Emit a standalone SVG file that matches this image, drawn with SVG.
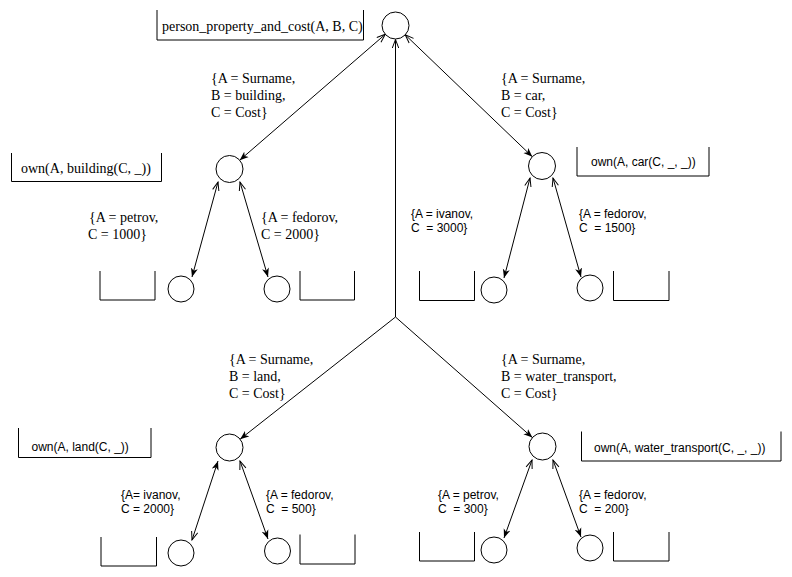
<svg xmlns="http://www.w3.org/2000/svg" width="792" height="577" viewBox="0 0 792 577">
  <style>
    .bg { fill: #ffffff; }
    .node { fill: #ffffff; stroke: #000000; stroke-width: 1; }
    .tray { fill: none; stroke: #000000; stroke-width: 1; }
    .edge { fill: none; stroke: #000000; stroke-width: 1; }
    text { white-space: pre; }
    .serif { font-family: "Liberation Serif", "Times New Roman", serif; font-size: 14px; fill: #000000; }
    .sans { font-family: "Liberation Sans", Arial, sans-serif; font-size: 12px; fill: #000000; }
  </style>
  <defs>
    <marker id="filled" markerUnits="userSpaceOnUse" markerWidth="10" markerHeight="8" refX="9" refY="4" orient="auto-start-reverse">
      <path d="M0,0.5 L9,4 L0,7.5 L2.5,4 Z" fill="#000000"/>
    </marker>
    <marker id="open" markerUnits="userSpaceOnUse" markerWidth="10" markerHeight="8" refX="9" refY="4" orient="auto-start-reverse">
      <path d="M0.5,0.8 L9,4 L0.5,7.2" fill="none" stroke="#000000" stroke-width="1"/>
    </marker>
  </defs>

  <rect class="bg" x="0" y="0" width="792" height="577"/>

  <!-- connectors -->
  <g id="connectors">
    <!-- root to its branches -->
    <path class="edge" d="M385.3,34.3 L239.7,160.2" marker-start="url(#open)" marker-end="url(#filled)"/>
    <path class="edge" d="M405.2,34.8 L532.3,156.7" marker-start="url(#open)" marker-end="url(#filled)"/>
    <path class="edge" d="M395.5,317 L395.5,39.5" marker-end="url(#open)"/>
    <path class="edge" d="M395.5,317 L240.1,439.2" marker-end="url(#filled)"/>
    <path class="edge" d="M395.5,317 L532.4,437.6" marker-end="url(#filled)"/>
    <!-- building leaves -->
    <path class="edge" d="M218,182 L192,277" marker-start="url(#open)" marker-end="url(#filled)"/>
    <path class="edge" d="M240,182 L268,277" marker-start="url(#open)" marker-end="url(#filled)"/>
    <!-- car leaves -->
    <path class="edge" d="M530,178 L504,278" marker-start="url(#open)" marker-end="url(#filled)"/>
    <path class="edge" d="M553,178 L581,277" marker-start="url(#open)" marker-end="url(#filled)"/>
    <!-- land leaves -->
    <path class="edge" d="M218,461 L192,540" marker-start="url(#filled)" marker-end="url(#open)"/>
    <path class="edge" d="M240,461 L268,539" marker-start="url(#open)" marker-end="url(#filled)"/>
    <!-- water transport leaves -->
    <path class="edge" d="M532,460 L504,538" marker-start="url(#open)" marker-end="url(#filled)"/>
    <path class="edge" d="M553,460 L581,537" marker-start="url(#open)" marker-end="url(#filled)"/>
  </g>

  <!-- edge labels -->
  <g id="edge-labels">
    <text class="serif" x="211" y="83">{A = Surname,</text>
    <text class="serif" x="211" y="100">B = building,</text>
    <text class="serif" x="211" y="117">C = Cost}</text>

    <text class="serif" x="501" y="83">{A = Surname,</text>
    <text class="serif" x="501" y="100">B = car,</text>
    <text class="serif" x="501" y="117">C = Cost}</text>

    <text class="serif" x="89" y="221.5">{A = petrov,</text>
    <text class="serif" x="88" y="238.5">C = 1000}</text>
    <text class="serif" x="261" y="221.5">{A = fedorov,</text>
    <text class="serif" x="261" y="238.5">C = 2000}</text>

    <text class="sans" x="411" y="217.5" xml:space="preserve">{A = ivanov,</text>
    <text class="sans" x="411" y="232" xml:space="preserve">C  = 3000}</text>
    <text class="sans" x="579" y="217.5" xml:space="preserve">{A = fedorov,</text>
    <text class="sans" x="579" y="232" xml:space="preserve">C  = 1500}</text>

    <text class="serif" x="229" y="364">{A = Surname,</text>
    <text class="serif" x="229" y="381">B = land,</text>
    <text class="serif" x="229" y="398">C = Cost}</text>

    <text class="serif" x="501" y="364">{A = Surname,</text>
    <text class="serif" x="501" y="381">B = water_transport,</text>
    <text class="serif" x="501" y="398">C = Cost}</text>

    <text class="sans" x="121" y="498.5">{A= ivanov,</text>
    <text class="sans" x="121" y="513">C = 2000}</text>
    <text class="sans" x="266" y="498.5" xml:space="preserve">{A = fedorov,</text>
    <text class="sans" x="266" y="513" xml:space="preserve">C  = 500}</text>

    <text class="sans" x="438" y="498.5" xml:space="preserve">{A = petrov,</text>
    <text class="sans" x="438" y="513" xml:space="preserve">C  = 300}</text>
    <text class="sans" x="579" y="498.5" xml:space="preserve">{A = fedorov,</text>
    <text class="sans" x="579" y="513" xml:space="preserve">C  = 200}</text>
  </g>

  <!-- goal nodes with their predicate labels -->
  <g id="root">
    <circle class="node" cx="395.5" cy="25.5" r="13.5"/>
    <path class="tray" d="M157,10 L157,40 L363.5,40 L363.5,10"/>
    <text class="serif" x="162" y="31">person_property_and_cost(A, B, C)</text>
  </g>

  <g id="building">
    <circle class="node" cx="229.5" cy="169" r="13.5"/>
    <path class="tray" d="M11.5,153 L11.5,181.5 L161.5,181.5 L161.5,153"/>
    <text class="serif" x="21" y="173">own(A, building(C, _))</text>
  </g>
  <g id="building-petrov">
    <circle class="node" cx="181" cy="289" r="13"/>
    <path class="tray" d="M100,271 L100,300 L155,300 L155,271"/>
  </g>
  <g id="building-fedorov">
    <circle class="node" cx="277" cy="289" r="13"/>
    <path class="tray" d="M300,271 L300,300 L354.5,300 L354.5,271"/>
  </g>

  <g id="car">
    <circle class="node" cx="542" cy="166" r="13.5"/>
    <path class="tray" d="M577,147 L577,176 L709,176 L709,147"/>
    <text class="sans" x="591" y="166">own(A, car(C, _, _))</text>
  </g>
  <g id="car-ivanov">
    <circle class="node" cx="494" cy="290" r="13"/>
    <path class="tray" d="M419.5,271 L419.5,300.5 L474.5,300.5 L474.5,271"/>
  </g>
  <g id="car-fedorov">
    <circle class="node" cx="590" cy="288" r="13"/>
    <path class="tray" d="M613.5,271 L613.5,300.5 L669,300.5 L669,271"/>
  </g>

  <g id="land">
    <circle class="node" cx="229.5" cy="447.5" r="13.5"/>
    <path class="tray" d="M18.5,428 L18.5,457.5 L151,457.5 L151,428"/>
    <text class="sans" x="31.5" y="451">own(A, land(C, _))</text>
  </g>
  <g id="land-ivanov">
    <circle class="node" cx="181" cy="553" r="13"/>
    <path class="tray" d="M101,537 L101,566 L156.5,566 L156.5,537"/>
  </g>
  <g id="land-fedorov">
    <circle class="node" cx="277.5" cy="551" r="13"/>
    <path class="tray" d="M300,534.5 L300,564 L355,564 L355,534.5"/>
  </g>

  <g id="water-transport">
    <circle class="node" cx="542.5" cy="446.5" r="13.5"/>
    <path class="tray" d="M581.5,431.5 L581.5,461 L781,461 L781,431.5"/>
    <text class="sans" x="594" y="451.5">own(A, water_transport(C, _, _))</text>
  </g>
  <g id="water-petrov">
    <circle class="node" cx="494" cy="550" r="13"/>
    <path class="tray" d="M419.5,532 L419.5,561 L474.5,561 L474.5,532"/>
  </g>
  <g id="water-fedorov">
    <circle class="node" cx="590" cy="548" r="13"/>
    <path class="tray" d="M613.5,532 L613.5,561 L669,561 L669,532"/>
  </g>
</svg>
